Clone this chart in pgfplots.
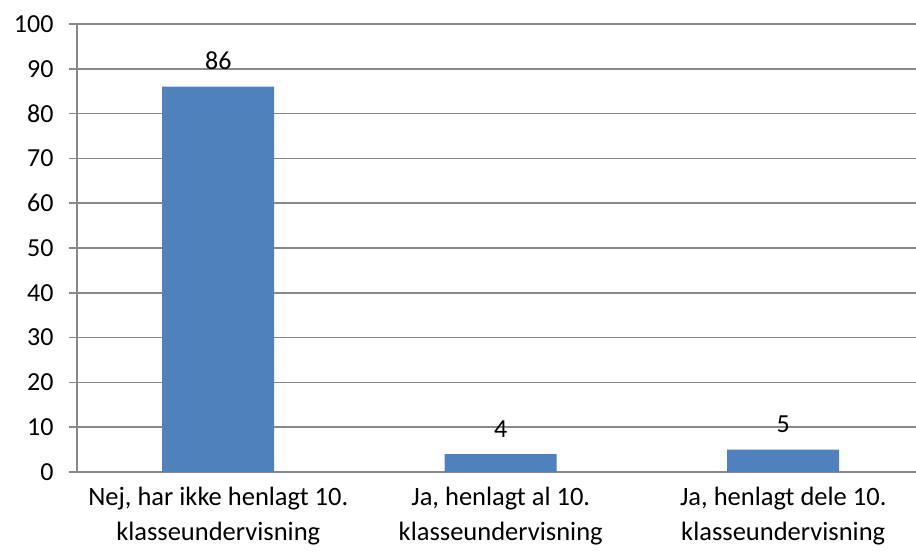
\documentclass[border=0pt]{standalone}
\usepackage{pgfplots}
\pgfplotsset{compat=1.18}
\usepackage{fontspec}
\setmainfont{Carlito}
\usetikzlibrary{calc}
\definecolor{barblue}{HTML}{4F81BD}
\definecolor{gridgray}{HTML}{888888}
\begin{document}
\begin{tikzpicture}
\begin{axis}[
  scale only axis,
  width=839pt, height=448pt,
  xmin=-0.5, xmax=2.47,
  ymin=0, ymax=100,
  ytick={0,10,...,100},
  xtick={0,1,2},
  xticklabels={{Nej, har ikke henlagt 10.\\klasseundervisning},{Ja, henlagt al 10.\\klasseundervisning},{Ja, henlagt dele 10.\\klasseundervisning}},
  xticklabel style={align=center, font=\fontsize{26.5}{35}\selectfont, yshift=-4pt},
  yticklabel style={font=\fontsize{26}{30}\selectfont, xshift=-12pt},
  major x tick style={draw=none},
  extra x ticks={-0.5,0.5,1.5},
  extra x tick labels={},
  extra x tick style={major tick length=8pt, tick style={draw=gridgray, line width=1.5pt}, grid=none},
  axis x line=bottom, axis y line=left,
  axis line style={-, draw=gridgray, line width=1.5pt},
  tick align=outside,
  major tick length=8pt,
  tick style={draw=gridgray, line width=1.5pt},
  ymajorgrids,
  grid style={draw=gridgray, line width=1.5pt},
  ybar, bar width=112pt,
  nodes near coords,
  every node near coord/.append style={font=\fontsize{26}{30}\selectfont, black, yshift=13pt},
  /pgf/number format/assume math mode=true,
  clip=false,
]
\addplot[fill=barblue, draw=none] coordinates {(0,86) (1,4) (2,5)};
\end{axis}
\pgfresetboundingbox
\path[use as bounding box] ($(current axis.south west)+(-77pt,-81pt)$) rectangle ($(current axis.north east)+(0pt,24pt)$);
\end{tikzpicture}
\end{document}
